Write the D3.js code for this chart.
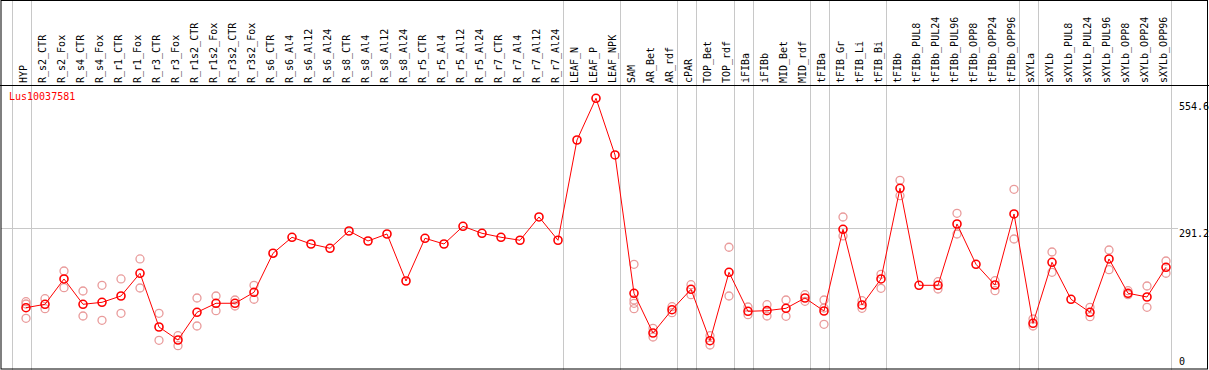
<!DOCTYPE html>
<html>
<head>
<script src="https://cdn.jsdelivr.net/npm/d3@7"></script>
<style>
  body { margin: 0; background: #fff; overflow: hidden; }
  text { font-family: "DejaVu Sans Mono", monospace; font-size: 10px; }
</style>
</head>
<body>
<div id="canvas"></div>
<script>
// column labels
var samples = ["HYP", "R_s2_CTR", "R_s2_Fox", "R_s4_CTR", "R_s4_Fox", "R_r1_CTR", "R_r1_Fox",
  "R_r3_CTR", "R_r3_Fox", "R_r1s2_CTR", "R_r1s2_Fox", "R_r3s2_CTR", "R_r3s2_Fox",
  "R_s6_CTR", "R_s6_Al4", "R_s6_Al12", "R_s6_Al24", "R_s8_CTR", "R_s8_Al4", "R_s8_Al12", "R_s8_Al24",
  "R_r5_CTR", "R_r5_Al4", "R_r5_Al12", "R_r5_Al24", "R_r7_CTR", "R_r7_Al4", "R_r7_Al12", "R_r7_Al24",
  "LEAF_N", "LEAF_P", "LEAF_NPK", "SAM", "AR_Bet", "AR_rdf", "cPAR", "TOP_Bet", "TOP_rdf",
  "iFIBa", "iFIBb", "MID_Bet", "MID_rdf", "tFIBa", "tFIB_Gr", "tFIB_Li", "tFIB_Bi",
  "tFIBb", "tFIBb_PUL8", "tFIBb_PUL24", "tFIBb_PUL96", "tFIBb_OPP8", "tFIBb_OPP24", "tFIBb_OPP96",
  "sXYLa", "sXYLb", "sXYLb_PUL8", "sXYLb_PUL24", "sXYLb_PUL96", "sXYLb_OPP8", "sXYLb_OPP24", "sXYLb_OPP96"];

// mean expression per sample
var means = [126.9, 133.9, 186.3, 133.9, 138.0, 151.1, 198.1, 86.9, 60.0, 117.3, 136.0, 136.0, 158.7,
  239.5, 272.6, 258.7, 249.8, 285.6, 264.9, 279.4, 182.1,
  270.5, 258.7, 295.3, 280.8, 272.6, 266.4, 314.6, 266.4,
  473.9, 560.2, 442.9, 156.7, 74.5, 122.7, 164.9, 58.6, 200.1,
  119.4, 120.7, 125.6, 146.9, 120.0, 289.1, 132.5, 186.3,
  374.0, 173.2, 173.2, 300.1, 216.7, 173.8, 320.8,
  94.6, 220.8, 144.3, 117.3, 227.7, 156.7, 149.0, 210.5];

// replicate values (pale circles), same order as samples
var replicates = [
  [139.3, 134.5, 104.9], [145.5, 124.8], [202.8, 168.3], [161.4, 109.7], [173.2, 100.8],
  [186.3, 115.3], [227.7, 167.6], [115.3, 59.4], [68.9, 48.2], [146.9, 89.0],
  [151.1, 120.7], [142.8, 130.4], [173.2, 144.3],
  [], [], [], [], [], [], [], [], [], [], [], [], [], [], [], [],
  [], [], [],
  [216.7, 142.8, 136.0, 124.8], [84.2, 66.2], [128.9, 116.5], [174.5, 153.8],
  [68.9, 49.7], [251.9, 151.1], [128.3, 112.4], [133.1, 109.7], [142.8, 109.1], [153.8, 140.1],
  [142.8, 126.2, 92.5], [314.6, 275.3], [141.4, 125.6], [196.0, 167.0],
  [390.5, 358.7], [], [180.7, 165.6], [322.2, 279.4], [], [182.7, 162.0], [371.9, 269.0],
  [103.5, 89.0], [242.1, 200.1], [], [127.7, 108.2], [246.3, 205.5], [162.0, 153.8],
  [171.8, 127.7], [223.5, 198.1]
];

// last sample of each group: a divider is drawn after it
var groupEnds = ["HYP", "R_r7_Al24", "LEAF_NPK", "AR_rdf", "cPAR", "TOP_rdf", "iFIBa",
  "MID_rdf", "tFIBa", "tFIB_Bi", "tFIBb_OPP96", "sXYLa", "sXYLb_OPP96"];

var yTicks = [0, 291.2, 554.6];
var title = "Lus10037581";

var width = 1209, height = 370;

var svg = d3.select("#canvas").append("svg")
    .attr("width", width)
    .attr("height", height);

var x = d3.scalePoint().domain(samples).range([26, 1166]);
var y = d3.scaleLinear().domain([0, 554.6]).range([369, 101]);
var step = x.step();

// vertical dividers
var dividers = [x(samples[0]) - step + 5].concat(groupEnds.map(function (d) { return x(d) + 5; }));
svg.selectAll("line.div").data(dividers)
    .enter().append("line")
    .attr("class", "div")
    .attr("x1", function (d) { return Math.round(d) + 0.5; })
    .attr("x2", function (d) { return Math.round(d) + 0.5; })
    .attr("y1", 0).attr("y2", height)
    .style("stroke", "#c8c8c8");

// horizontal gridline at middle tick
svg.append("line")
    .attr("x1", 1).attr("x2", 1178)
    .attr("y1", Math.round(y(291.2)) + 0.5).attr("y2", Math.round(y(291.2)) + 0.5)
    .style("stroke", "#c8c8c8");

// frame + header line
svg.append("rect")
    .attr("x", 1).attr("y", 0.5).attr("width", width - 2.5).attr("height", height - 1.5)
    .style("fill", "none").style("stroke", "black");
svg.append("line")
    .attr("x1", 0).attr("x2", width).attr("y1", 85.5).attr("y2", 85.5)
    .style("stroke", "black");

// column labels
svg.selectAll("text.col").data(samples)
    .enter().append("text")
    .attr("class", "col")
    .attr("transform", function (d) { return "translate(" + (x(d) + 1) + ",83) rotate(-90)"; })
    .text(function (d) { return d; })
    .attr("fill", "black");

// right axis labels
svg.selectAll("text.yt").data(yTicks)
    .enter().append("text")
    .attr("class", "yt")
    .attr("x", 1179)
    .attr("y", function (d) { return d === 0 ? y(d) - 4 : y(d) + 9; })
    .text(function (d) { return d; })
    .attr("fill", "black");

svg.append("text")
    .attr("x", 9).attr("y", 100)
    .text(title)
    .attr("fill", "red");

// replicate points
var reps = [];
samples.forEach(function (s, i) {
  replicates[i].forEach(function (v) { reps.push({ s: s, v: v }); });
});
svg.selectAll("circle.rep").data(reps)
    .enter().append("circle")
    .attr("class", "rep")
    .attr("cx", function (d) { return x(d.s); })
    .attr("cy", function (d) { return y(d.v); })
    .attr("r", 4)
    .style("fill", "none")
    .style("stroke", "#e99b9b")
    .style("stroke-width", 1.3);

// mean line
var line = d3.line()
    .x(function (d, i) { return x(samples[i]); })
    .y(function (d) { return y(d); });
svg.append("path")
    .datum(means)
    .attr("d", line)
    .style("fill", "none")
    .style("stroke", "red")
    .style("stroke-width", 1);

svg.selectAll("circle.mean").data(means)
    .enter().append("circle")
    .attr("class", "mean")
    .attr("cx", function (d, i) { return x(samples[i]); })
    .attr("cy", function (d) { return y(d); })
    .attr("r", 4)
    .style("fill", "none")
    .style("stroke", "red")
    .style("stroke-width", 1.6);
</script>
</body>
</html>
